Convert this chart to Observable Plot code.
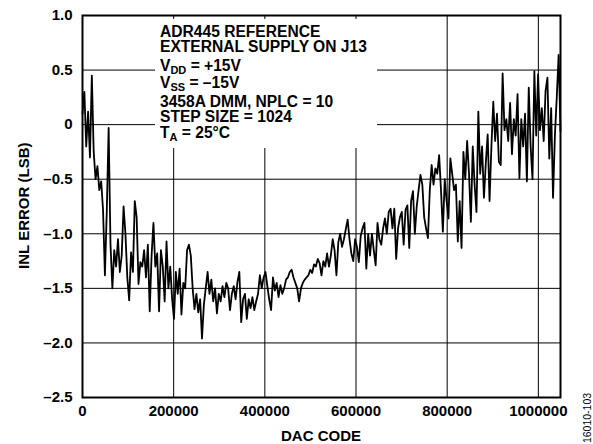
<!DOCTYPE html>
<html><head><meta charset="utf-8">
<script src="https://cdn.jsdelivr.net/npm/d3@7"></script>
<script src="https://cdn.jsdelivr.net/npm/@observablehq/plot@0.6"></script>
<style>body{margin:0;background:#fff} svg{display:block}</style>
</head><body><div id="chart"></div>
<script>
const codeStep = 4096;
const inlError = [
 0.1, 0.3, -0.2, 0.12, -0.3, 0.45, -0.25, -0.5, -0.38, -0.6,
 -0.52, -0.78, -1.38, -0.8, -0.03, -1.1, -1.5, -1.15, -1.3, -1.05,
 -1.35, -1.2, -0.75, -1.0, -1.4, -1.61, -1.17, -1.35, -0.7, -0.85,
 -1.46, -1.26, -1.3, -1.15, -1.4, -1.1, -1.71, -1.2, -0.9, -1.3,
 -1.18, -1.71, -1.15, -1.3, -1.62, -1.07, -1.5, -1.3, -1.6, -1.78,
 -1.35, -1.55, -1.32, -1.74, -1.45, -1.5, -1.15, -1.1, -1.2, -1.5,
 -1.69, -1.55, -1.72, -1.6, -1.96, -1.65, -1.5, -1.35, -1.55, -1.42,
 -1.62, -1.5, -1.73, -1.55, -1.62, -1.48, -1.58, -1.45, -1.5, -1.7,
 -1.55, -1.48, -1.6, -1.44, -1.35, -1.81, -1.6, -1.55, -1.78, -1.6,
 -1.68, -1.58, -1.7, -1.62, -1.55, -1.38, -1.5, -1.4, -1.35, -1.48,
 -1.6, -1.7, -1.4, -1.52, -1.45, -1.58, -1.47, -1.55, -1.5, -1.42,
 -1.4, -1.35, -1.33, -1.4, -1.45, -1.5, -1.62, -1.5, -1.45, -1.42,
 -1.4, -1.38, -1.33, -1.36, -1.28, -1.3, -1.23, -1.27, -1.38, -1.25,
 -1.3, -1.18, -1.3, -1.2, -1.05, -1.15, -1.38, -1.08, -1.0, -1.12,
 -1.05, -0.96, -0.87, -1.05, -1.18, -1.25, -1.05, -1.12, -1.26, -1.02,
 -0.95, -0.9, -1.32, -1.0, -1.2, -1.0, -1.15, -1.29, -0.9, -1.05,
 -1.1, -0.95, -0.86, -1.0, -0.8, -0.77, -0.95, -0.77, -1.23, -0.95,
 -0.85, -0.8, -1.1, -0.78, -0.74, -1.13, -0.7, -0.61, -1.0, -0.75,
 -0.6, -0.46, -0.55, -0.85, -0.95, -1.04, -0.6, -0.37, -0.55, -0.4,
 -0.45, -0.28, -0.6, -0.98, -0.5, -0.7, -0.86, -0.31, -0.45, -0.6,
 -0.55, -1.07, -0.7, -1.13, -0.25, -0.5, -0.15, -0.45, -0.89, -0.2,
 -0.55, -0.8, 0.12, -0.45, -0.2, -0.67, -0.35, -0.09, -0.7, -0.2,
 0.21, -0.15, 0.1, -0.34, -0.37, 0.47, -0.05, 0.05, -0.15, 0.2,
 -0.27, 0.05, -0.1, 0.28, -0.49, 0.05, -0.2, 0.1, -0.52, 0.34,
 -0.2, -0.5, 0.49, -0.1, 0.46, -0.05, 0.15, -0.15, 0.31, 0.43,
 -0.31, 0.15, -0.67, -0.1, 0.25, 0.64, -0.06
];
const xTicks = [0, 200000, 400000, 600000, 800000, 1000000];
const yTicks = [-2.5, -2.0, -1.5, -1.0, -0.5, 0, 0.5, 1.0];
const xGridLines = [200000, 400000, 600000, 800000, 1000000];
const yGridLines = [-2.0, -1.5, -1.0, -0.5, 0, 0.5];
const noteLines = [
  [["ADR445 REFERENCE"]],
  [["EXTERNAL SUPPLY ON J13"]],
  [["V"], ["DD", true], [" = +15V"]],
  [["V"], ["SS", true], [" = \u201315V"]],
  [["3458A DMM, NPLC = 10"]],
  [["STEP SIZE = 1024"]],
  [["T"], ["A", true], [" = 25\u00B0C"]]
];
const xTitle = "DAC CODE";
const yTitle = "INL ERROR (LSB)";
const figId = "16010-103";

const data = inlError.map((v, i) => ({code: i * codeStep, inl: v}));
const fmtY = d => d === 0 ? "0" : (d < 0 ? "\u2013" : "") + Math.abs(d).toFixed(1);
const FONT = "'Liberation Sans', Arial, Helvetica, sans-serif";

const chart = Plot.plot({
  width: 593, height: 444,
  marginLeft: 82, marginRight: 33, marginTop: 15, marginBottom: 47,
  style: {fontFamily: FONT, background: "#fff", color: "#000"},
  x: {domain: [0, 1048576]},
  y: {domain: [-2.5, 1.0]},
  marks: [
    Plot.gridX(xGridLines, {stroke: "#000", strokeOpacity: 1, strokeWidth: 1}),
    Plot.gridY(yGridLines, {stroke: "#000", strokeOpacity: 1, strokeWidth: 1}),
    Plot.line(data, {x: "code", y: "inl", stroke: "#000", strokeWidth: 1.8, strokeLinejoin: "round"}),
    Plot.frame({stroke: "#000", strokeWidth: 2}),
    Plot.axisX(xTicks, {tickSize: 0, tickPadding: 8, tickFormat: d => String(d), fontSize: 15, fontWeight: "bold", label: null}),
    Plot.axisY(yTicks, {tickSize: 0, tickPadding: 10, tickFormat: fmtY, fontSize: 15, fontWeight: "bold", label: null})
  ]
});
document.getElementById("chart").appendChild(chart);

const svg = d3.select(chart);
// annotation box (white, hides gridlines)
svg.append("rect").attr("x", 155).attr("y", 19).attr("width", 222).attr("height", 129).attr("fill", "#fff");
const baselines = [36.7, 52.3, 70.7, 88.3, 106.7, 122.3, 138.3];
noteLines.forEach((parts, li) => {
  const t = svg.append("text").attr("x", 160).attr("y", baselines[li]).attr("text-anchor", "start")
    .attr("font-family", FONT).attr("font-weight", "bold").attr("font-size", 15.6).attr("fill", "#000");
  let shifted = false;
  parts.forEach(([s, sub]) => {
    const ts = t.append("tspan").text(s);
    if (sub) { ts.attr("font-size", 11).attr("dy", 3); shifted = true; }
    else if (shifted) { ts.attr("dy", -3); shifted = false; }
  });
});
svg.append("text").attr("x", 321).attr("y", 441).attr("text-anchor", "middle")
  .attr("font-family", FONT).attr("font-weight", "bold").attr("font-size", 15).text(xTitle);
svg.append("text").attr("transform", "translate(28.5,205.7) rotate(-90)").attr("text-anchor", "middle")
  .attr("font-family", FONT).attr("font-weight", "bold").attr("font-size", 15).text(yTitle);
svg.append("text").attr("transform", "translate(590.5,418) rotate(-90)").attr("text-anchor", "middle")
  .attr("font-family", FONT).attr("font-size", 10.5).text(figId);
</script></body></html>
